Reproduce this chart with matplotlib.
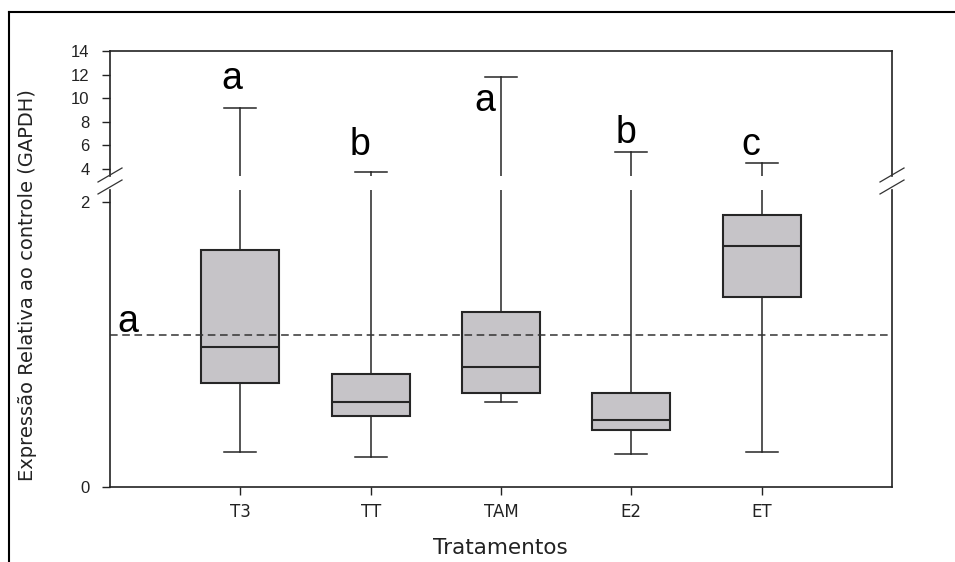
import matplotlib
matplotlib.use('Agg')
import matplotlib.pyplot as plt
from matplotlib import font_manager
from matplotlib.lines import Line2D

# ---------------- data ----------------
categories = ['T3', 'TT', 'TAM', 'E2', 'ET']
whisker_low = [0.243, 0.213, 0.594, 0.234, 0.243]
q1 = [0.728, 0.500, 0.657, 0.400, 1.335]
median = [0.985, 0.594, 0.840, 0.470, 1.693]
q3 = [1.663, 0.791, 1.230, 0.657, 1.911]
whisker_high = [9.19, 3.75, 11.82, 5.44, 4.50]
letters = ['a', 'b', 'a', 'b', 'c']
control_value = 1.07
control_letter = 'a'
upper_ticks = [4, 6, 8, 10, 12, 14]
lower_ticks = [0, 2]

# annotation placement (letters)
letter_dx = [-0.068, -0.081, -0.122, -0.044, -0.08]
letter_y = [10.78, 5.19, 8.92, 6.20, 5.19]

# ---------------- fonts ----------------
names = {f.name for f in font_manager.fontManager.ttflist}
narrow = 'Liberation Sans Narrow' if 'Liberation Sans Narrow' in names else 'Liberation Sans'

W, H = 955, 562
fig = plt.figure(figsize=(W / 100, H / 100), dpi=100)


def fx(px):
    return px / W


def fy(py):
    return 1 - py / H


L, R = 110, 892
ax_top = fig.add_axes([fx(L), fy(176), fx(R) - fx(L), fy(51) - fy(176)])
ax_bot = fig.add_axes([fx(L), fy(487), fx(R) - fx(L), fy(190) - fy(487)])

positions = list(range(1, len(categories) + 1))
stats = []
for i, c in enumerate(categories):
    stats.append(dict(label=c, whislo=whisker_low[i], q1=q1[i], med=median[i],
                      q3=q3[i], whishi=whisker_high[i], fliers=[]))

edge = '#262626'
for ax in (ax_top, ax_bot):
    ax.bxp(stats, positions=positions, widths=0.6, capwidths=0.245,
           patch_artist=True, showfliers=False,
           boxprops=dict(facecolor='#c6c4c8', edgecolor=edge, linewidth=1.5),
           medianprops=dict(color=edge, linewidth=1.5),
           whiskerprops=dict(color=edge, linewidth=1.1),
           capprops=dict(color=edge, linewidth=1.1))
    ax.set_xlim(0, 6)
    for s in ax.spines.values():
        s.set_color('#222222')
        s.set_linewidth(1.2)
    ax.tick_params(axis='both', direction='out', length=5.8, width=1.0,
                   color='#222222', labelcolor='#222222')

ax_top.set_ylim(3.407, 14)
ax_bot.set_ylim(0, 2.084)

ax_top.spines['bottom'].set_visible(False)
ax_top.set_xticks([])
ax_bot.spines['top'].set_visible(False)

ax_top.set_yticks(upper_ticks)
ax_top.set_yticklabels([str(t) for t in upper_ticks], family=narrow, fontsize=12)
ax_bot.set_yticks(lower_ticks)
ax_bot.set_yticklabels([str(t) for t in lower_ticks], family=narrow, fontsize=12)
ax_top.tick_params(axis='y', pad=9)
ax_bot.tick_params(axis='y', pad=9)

ax_bot.set_xticks(positions)
ax_bot.set_xticklabels(categories, fontsize=12, family='DejaVu Sans')
ax_bot.tick_params(axis='x', pad=6)

# control reference line
ax_bot.axhline(control_value, color='#333333', linestyle=(0, (5, 3)), linewidth=1.1, zorder=3)
ax_bot.text(0.138, 1.088, control_letter, ha='center', va='baseline',
            fontsize=27, family='Liberation Sans', color='black')

# significance letters
for i, let in enumerate(letters):
    ax_top.text(positions[i] + letter_dx[i], letter_y[i], let, ha='center', va='baseline',
                fontsize=27, family='Liberation Sans', color='black')

# axis break marks
for xc in (L, R):
    for yc in (175, 187):
        fig.add_artist(Line2D([fx(xc - 12), fx(xc + 12)], [fy(yc + 7), fy(yc - 7)],
                              color='#333333', linewidth=0.9))

# outer frame (top and left)
fig.add_artist(Line2D([fx(9), fx(955)], [fy(12), fy(12)], color='black', linewidth=1.5))
fig.add_artist(Line2D([fx(9), fx(9)], [fy(12), fy(562)], color='black', linewidth=1.5))

# labels
fig.text(fx(28), fy(285), 'Expressão Relativa ao controle (GAPDH)', rotation=90,
         ha='center', va='center', fontsize=14, family='DejaVu Sans', color='#222222')
fig.text(fx(500), fy(548), 'Tratamentos', ha='center', va='center',
         fontsize=15.5, family='DejaVu Sans', color='#222222')

fig.savefig('out.png', dpi=100)
